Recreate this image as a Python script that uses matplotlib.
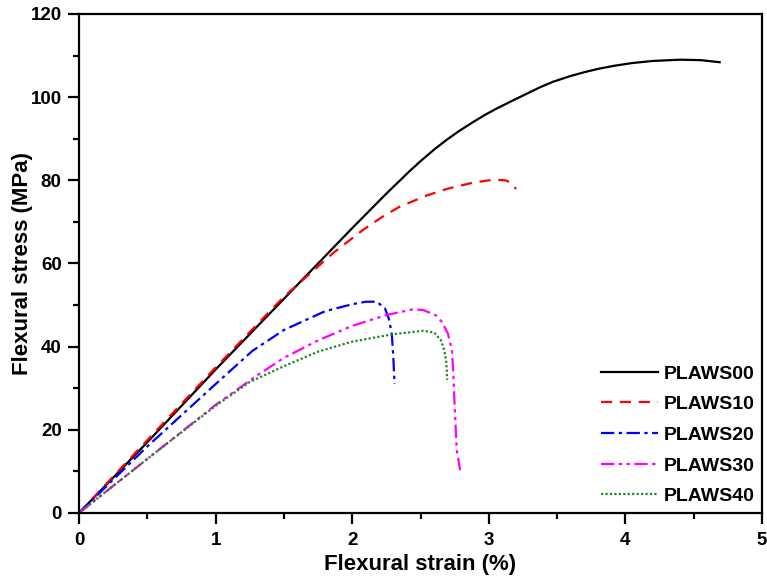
import matplotlib
matplotlib.use("Agg")
import matplotlib.pyplot as plt
from matplotlib.ticker import MultipleLocator

plt.rcParams['font.family'] = ['Liberation Sans', 'DejaVu Sans']
plt.rcParams['font.weight'] = 'bold'

labels = ["PLAWS00", "PLAWS10", "PLAWS20", "PLAWS30", "PLAWS40"]

x00 = [0, 0.5, 1.0, 1.5, 2.0, 2.25, 2.42, 2.5, 2.6, 2.69, 2.78, 2.88, 2.97, 3.06, 3.17, 3.27, 3.37, 3.47,
       3.6, 3.7, 3.8, 3.91, 4.05, 4.2, 4.4, 4.55, 4.69]
y00 = [0, 17.0, 34.5, 51.5, 68.5, 76.8, 82.2, 84.6, 87.4, 89.7, 91.8, 93.9, 95.7, 97.3, 99.1, 100.7, 102.3, 103.7,
       105.1, 106.0, 106.8, 107.5, 108.2, 108.7, 109.0, 108.9, 108.4]

x10 = [0, 0.5, 1.0, 1.5, 1.86, 2.08, 2.22, 2.35, 2.55, 2.7, 2.88, 3.0, 3.06, 3.12, 3.16, 3.2]
y10 = [0, 17.5, 35.0, 52.0, 62.5, 68.1, 71.2, 73.7, 76.4, 78.0, 79.4, 80.0, 80.1, 80.0, 79.5, 77.9]

x20 = [0, 0.5, 1.0, 1.27, 1.5, 1.8, 2.0, 2.1, 2.18, 2.24, 2.27, 2.29, 2.30, 2.31]
y20 = [0, 16.0, 31.0, 39.0, 44.0, 48.5, 50.2, 50.8, 50.8, 49.2, 46.5, 43.0, 38.0, 31.0]

x30 = [0, 0.5, 1.0, 1.3, 1.5, 1.75, 2.0, 2.25, 2.45, 2.52, 2.61, 2.655, 2.70, 2.73, 2.74, 2.75, 2.765, 2.79]
y30 = [0, 13.0, 26.0, 33.0, 37.3, 41.5, 45.0, 47.6, 49.0, 48.8, 47.6, 46.0, 43.2, 39.2, 33.6, 25.6, 15.2, 10.3]

x40 = [0, 0.5, 1.0, 1.25, 1.5, 1.75, 2.0, 2.3, 2.52, 2.6, 2.65, 2.675, 2.69, 2.695]
y40 = [0, 13.0, 25.8, 31.5, 35.3, 38.8, 41.2, 43.0, 43.8, 43.4, 41.5, 39.0, 36.0, 32.0]

fig = plt.figure(figsize=(7.67, 5.82), dpi=100)
ax = fig.add_axes([0.103, 0.1186, 0.8905, 0.8574])

lw = 1.6
ax.plot(x00, y00, color='black', linestyle='-', lw=lw, label=labels[0])
ax.plot(x10, y10, color='red', linestyle=(0, (5, 3.5)), lw=lw, label=labels[1])
ax.plot(x20, y20, color='blue', linestyle=(0, (6, 2, 1.5, 2)), lw=lw, label=labels[2])
ax.plot(x30, y30, color='magenta', linestyle=(0, (6, 2, 1.5, 2, 1.5, 2)), lw=lw, label=labels[3])
ax.plot(x40, y40, color='#1a8a1a', linestyle=(0, (1, 1)), lw=lw, label=labels[4])

ax.set_xlim(0, 5)
ax.set_ylim(0, 120)
ax.xaxis.set_major_locator(MultipleLocator(1))
ax.xaxis.set_minor_locator(MultipleLocator(0.5))
ax.yaxis.set_major_locator(MultipleLocator(20))
ax.yaxis.set_minor_locator(MultipleLocator(10))
ax.tick_params(which='both', direction='out', width=1.6, labelsize=13.5)
ax.tick_params(which='major', length=8)
ax.tick_params(which='minor', length=4.5)
ax.tick_params(axis='x', which='major', pad=5.5)
ax.tick_params(axis='y', which='major', pad=4.5)
for s in ax.spines.values():
    s.set_linewidth(1.6)
for t in ax.get_xticklabels() + ax.get_yticklabels():
    t.set_fontweight('bold')

ax.set_xlabel("Flexural strain (%)", fontsize=16, fontweight='bold', labelpad=4)
ax.set_ylabel("Flexural stress (MPa)", fontsize=16, fontweight='bold')
ax.yaxis.set_label_coords(-0.067, 0.5)

leg = ax.legend(loc='lower right', frameon=False, handlelength=2.9,
                labelspacing=0.67, handletextpad=0.3, borderaxespad=0.0,
                prop={'weight': 'bold', 'size': 14})

fig.savefig("out.png", dpi=100)
